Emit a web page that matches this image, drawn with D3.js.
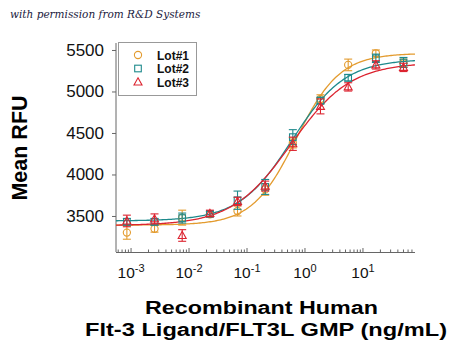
<!DOCTYPE html>
<html><head><meta charset="utf-8">
<script src="https://cdn.jsdelivr.net/npm/d3@7"></script>
<style>body{margin:0;background:#fff}svg{display:block}</style>
</head><body>
<svg id="c" width="450" height="349"></svg>
<script>
const concentrations = [0.000847, 0.00254, 0.00762, 0.0229, 0.0686, 0.206, 0.617, 1.85, 5.56, 16.7, 50];
const seriesNames = ["Lot#1", "Lot#2", "Lot#3"];
const lot1 = [3300, 3345, 3480, 3520, 3560, 3820, 4380, 4910, 5320, 5460, 5340];
const lot2 = [3430, 3430, 3475, 3525, 3690, 3850, 4450, 4890, 5165, 5400, 5350];
const lot3 = [3440, 3465, 3265, 3530, 3675, 3860, 4370, 4820, 5055, 5320, 5290];
const err1 = [80, 40, 90, 30, 60, 70, 60, 50, 70, 40, 50];
const err2 = [40, 40, 60, 30, 110, 90, 90, 40, 40, 50, 60];
const err3 = [70, 60, 70, 40, 50, 60, 80, 90, 50, 50, 50];
// 4PL fit parameters [bottom, top, EC50, hill]
const fit1 = [3390, 5460, 0.70, 1.15];
const fit2 = [3440, 5390, 0.60, 0.95];
const fit3 = [3385, 5350, 0.58, 0.85];
const yTicks = [3500, 4000, 4500, 5000, 5500];
const xTicks = [-3, -2, -1, 0, 1];
const colors = ["#E39B2E", "#1E8A8C", "#DC2430"];
const shapes = ["circle", "square", "triangle"];

const svg = d3.select("#c");
const x = d3.scaleLog().domain([5.5e-4, 79]).range([116, 415]);
const y = d3.scaleLinear().domain([3066, 5584]).range([252, 43]);

svg.append("text").attr("x", 10).attr("y", 18)
  .attr("font-family", "'DejaVu Serif', serif").attr("font-style", "italic")
  .attr("font-size", 10.5).attr("fill", "#1a1a40")
  .text("with permission from R&D Systems");

// axes
const yAxis = svg.append("g").attr("transform", "translate(116,0)")
  .call(d3.axisLeft(y).tickValues(yTicks).tickSize(4).tickFormat(d3.format("d")));
yAxis.select(".domain").attr("stroke", "#666").attr("d", "M0,43V252");
yAxis.selectAll(".tick line").attr("stroke", "#666");
yAxis.selectAll("text").attr("font-family", "'Liberation Sans', Arial, sans-serif")
  .attr("font-size", 17).attr("fill", "#111").attr("x", -12);

const minor = [];
for (let e = -4; e <= 2; e++) for (let m = 1; m <= 9; m++) {
  const v = m * Math.pow(10, e);
  if (v >= 5.5e-4 && v <= 79) minor.push(v);
}
const xg = svg.append("g");
xg.append("line").attr("x1", 116).attr("x2", 415).attr("y1", 252.5).attr("y2", 252.5).attr("stroke", "#666");
xg.selectAll("line.t").data(minor).join("line").attr("class", "t")
  .attr("x1", d => x(d)).attr("x2", d => x(d))
  .attr("y1", 252.5).attr("y2", d => Math.abs(Math.log10(d) - Math.round(Math.log10(d))) < 1e-6 ? 248 : 249.5)
  .attr("stroke", "#666");
const xl = xg.selectAll("text.xl").data(xTicks).join("text").attr("class", "xl")
  .attr("x", d => x(Math.pow(10, d))).attr("y", 278)
  .attr("text-anchor", "middle")
  .attr("font-family", "'Liberation Sans', Arial, sans-serif").attr("font-size", 15.5).attr("fill", "#111");
xl.append("tspan").text("10");
xl.append("tspan").attr("dy", -6).attr("font-size", 11).text(d => String(d));

// titles
svg.append("text").attr("transform", "translate(27,148) rotate(-90)").attr("text-anchor", "middle")
  .attr("font-family", "'Liberation Sans', Arial, sans-serif").attr("font-weight", "bold")
  .attr("font-size", 21.5).attr("fill", "#000").text("Mean RFU");
svg.append("text").attr("x", 145).attr("y", 314)
  .attr("textLength", 233).attr("lengthAdjust", "spacingAndGlyphs")
  .attr("font-family", "'Liberation Sans', Arial, sans-serif").attr("font-weight", "bold")
  .attr("font-size", 18).attr("fill", "#000").text("Recombinant Human");
svg.append("text").attr("x", 85).attr("y", 336)
  .attr("textLength", 362).attr("lengthAdjust", "spacingAndGlyphs")
  .attr("font-family", "'Liberation Sans', Arial, sans-serif").attr("font-weight", "bold")
  .attr("font-size", 18).attr("fill", "#000").text("Flt-3 Ligand/FLT3L GMP (ng/mL)");

// curves
const fits = [fit1, fit2, fit3];
const curveX = d3.range(0, 201).map(i => Math.pow(10, Math.log10(5.5e-4) + i * (Math.log10(79) - Math.log10(5.5e-4)) / 200));
const line = d3.line().x(d => x(d[0])).y(d => y(d[1]));
fits.forEach((p, i) => {
  const pts = curveX.map(c => [c, p[0] + (p[1] - p[0]) / (1 + Math.pow(p[2] / c, p[3]))]);
  svg.append("path").attr("d", line(pts)).attr("fill", "none").attr("stroke", colors[i]).attr("stroke-width", 1.3);
});

function marker(g, shape, cx, cy, col) {
  if (shape === "circle") g.append("circle").attr("cx", cx).attr("cy", cy).attr("r", 3.6);
  else if (shape === "square") g.append("rect").attr("x", cx - 3.3).attr("y", cy - 3.3).attr("width", 6.6).attr("height", 6.6);
  else g.append("path").attr("d", `M${cx},${cy - 4.2}L${cx + 4},${cy + 3}L${cx - 4},${cy + 3}Z`);
  g.selectAll("*").attr("fill", "none").attr("stroke", col).attr("stroke-width", 1.1);
}

const data = [lot1, lot2, lot3], errs = [err1, err2, err3];
data.forEach((vals, i) => {
  const g = svg.append("g");
  vals.forEach((v, j) => {
    const cx = x(concentrations[j]);
    const e = errs[i][j];
    const eg = g.append("g").attr("stroke", colors[i]).attr("stroke-width", 1.1);
    eg.append("line").attr("x1", cx).attr("x2", cx).attr("y1", y(v - e)).attr("y2", y(v + e));
    eg.append("line").attr("x1", cx - 4).attr("x2", cx + 4).attr("y1", y(v - e)).attr("y2", y(v - e));
    eg.append("line").attr("x1", cx - 4).attr("x2", cx + 4).attr("y1", y(v + e)).attr("y2", y(v + e));
    marker(g.append("g"), shapes[i], cx, y(v), colors[i]);
  });
});

// legend
const lg = svg.append("g");
lg.append("rect").attr("x", 118.5).attr("y", 42.5).attr("width", 78).attr("height", 53)
  .attr("fill", "#fff").attr("stroke", "#999").attr("stroke-width", 1);
seriesNames.forEach((n, i) => {
  const cy = 55 + i * 13.5;
  marker(lg.append("g"), shapes[i], 138, cy, colors[i]);
  lg.append("text").attr("x", 157).attr("y", cy + 4.5)
    .attr("font-family", "'Liberation Sans', Arial, sans-serif").attr("font-weight", "bold")
    .attr("font-size", 12).attr("fill", "#111").text(n);
});
</script>
</body></html>
